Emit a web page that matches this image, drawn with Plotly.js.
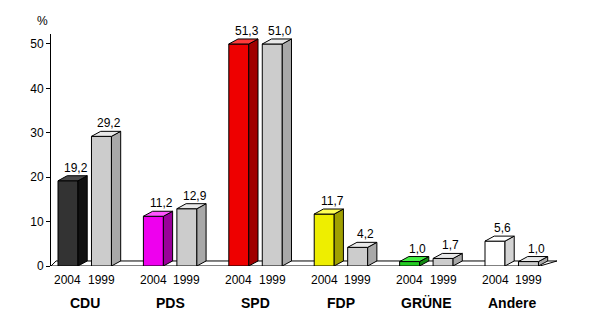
<!DOCTYPE html>
<html><head><meta charset="utf-8">
<script src="https://cdn.plot.ly/plotly-3.0.1.min.js"></script>
<style>html,body{margin:0;padding:0;background:#fff}#c{width:589px;height:314px}</style>
</head><body><div id="c"></div>
<script>
// Data
const parties = ['CDU', 'PDS', 'SPD', 'FDP', 'GRÜNE', 'Andere'];
const years = ['2004', '1999'];
const values2004 = [19.2, 11.2, 51.3, 11.7, 1.0, 5.6];
const values1999 = [29.2, 12.9, 51.0, 4.2, 1.7, 1.0];
const yTicks = [0, 10, 20, 30, 40, 50];
const barCap = 50; // the original chart draws bars no higher than its 50 % scale maximum

// Styles (front, side, top)
const colors2004 = [
  ['#333333', '#111111', '#4a4a4a'],
  ['#ee00ee', '#990099', '#ff55ff'],
  ['#ee0000', '#a00000', '#ff3a3a'],
  ['#eeee00', '#a0a000', '#ffff55'],
  ['#22cc22', '#118811', '#44ee44'],
  ['#ffffff', '#d4d4d4', '#ffffff']
];
const colors1999 = ['#cccccc', '#a8a8a8', '#e8e8e8'];

// Geometry (axis units)
const offset = 0.196, barW = 0.234, dx = 0.108, dy = 1.13;
const xMin = -0.395, xMax = 5.53;
const yMax = 52.25;
const font = 'Liberation Sans, Arial, sans-serif';

const traces = [];
const ann = [];

function poly(xs, ys, fill) {
  traces.push({type: 'scatter', mode: 'lines', x: xs.concat([xs[0]]), y: ys.concat([ys[0]]),
    fill: 'toself', fillcolor: fill, line: {color: '#000', width: 1}, hoverinfo: 'skip', showlegend: false});
}

// floor
poly([xMin, 5.33, 5.53, xMin + 0.06], [0, 0, dy, dy], '#ffffff');

function fmt(v) { return v.toFixed(1).replace('.', ','); }

function bar(xc, value, col) {
  const v = Math.min(value, barCap);
  const x0 = xc - barW / 2, x1 = xc + barW / 2;
  poly([x0, x1, x1, x0], [0, 0, v, v], col[0]);
  poly([x1, x1 + dx, x1 + dx, x1], [0, dy, v + dy, v], col[1]);
  poly([x0, x1, x1 + dx, x0 + dx], [v, v, v + dy, v + dy], col[2]);
  ann.push({x: xc + dx * 0.85, y: (v + dy) / yMax, xref: 'x', yref: 'paper', text: fmt(value), showarrow: false,
    yanchor: 'bottom', xanchor: 'center', yshift: -1, font: {family: font, size: 12, color: '#000'}});
}

parties.forEach((p, i) => {
  const xa = i - offset, xb = i + offset;
  bar(xa, values2004[i], colors2004[i]);
  bar(xb, values1999[i], colors1999);
  ann.push({x: xa, y: 0, xref: 'x', yref: 'paper', text: years[0], showarrow: false, yanchor: 'middle', yshift: -14,
    font: {family: font, size: 12, color: '#000'}});
  ann.push({x: xb, y: 0, xref: 'x', yref: 'paper', text: years[1], showarrow: false, yanchor: 'middle', yshift: -14,
    font: {family: font, size: 12, color: '#000'}});
  ann.push({x: i, y: 0, xref: 'x', yref: 'paper', text: '<b>' + p + '</b>', showarrow: false, yanchor: 'middle', yshift: -37,
    font: {family: font, size: 14, color: '#000'}});
});

// "%" label above the y axis
ann.push({x: 0, y: 1, xref: 'paper', yref: 'paper', xanchor: 'center', yanchor: 'middle',
  xshift: -9, yshift: 13, text: '%', showarrow: false, font: {family: font, size: 12, color: '#000'}});

const layout = {
  width: 589, height: 314,
  margin: {l: 51, r: 32, t: 34, b: 48},
  paper_bgcolor: '#fff', plot_bgcolor: '#fff',
  showlegend: false,
  xaxis: {range: [xMin, xMax], showgrid: false, zeroline: false, showline: false, showticklabels: false, ticks: '', fixedrange: true},
  yaxis: {range: [0, yMax], showgrid: false, zeroline: false, showline: true, linecolor: '#000', linewidth: 1,
    ticks: 'outside', ticklen: 4, tickcolor: '#000', tickvals: yTicks, ticktext: yTicks.map(String),
    tickfont: {family: font, size: 12, color: '#000'}, fixedrange: true},
  annotations: ann,
  font: {family: font}
};

Plotly.newPlot('c', traces, layout, {displayModeBar: false, staticPlot: true});
</script></body></html>
